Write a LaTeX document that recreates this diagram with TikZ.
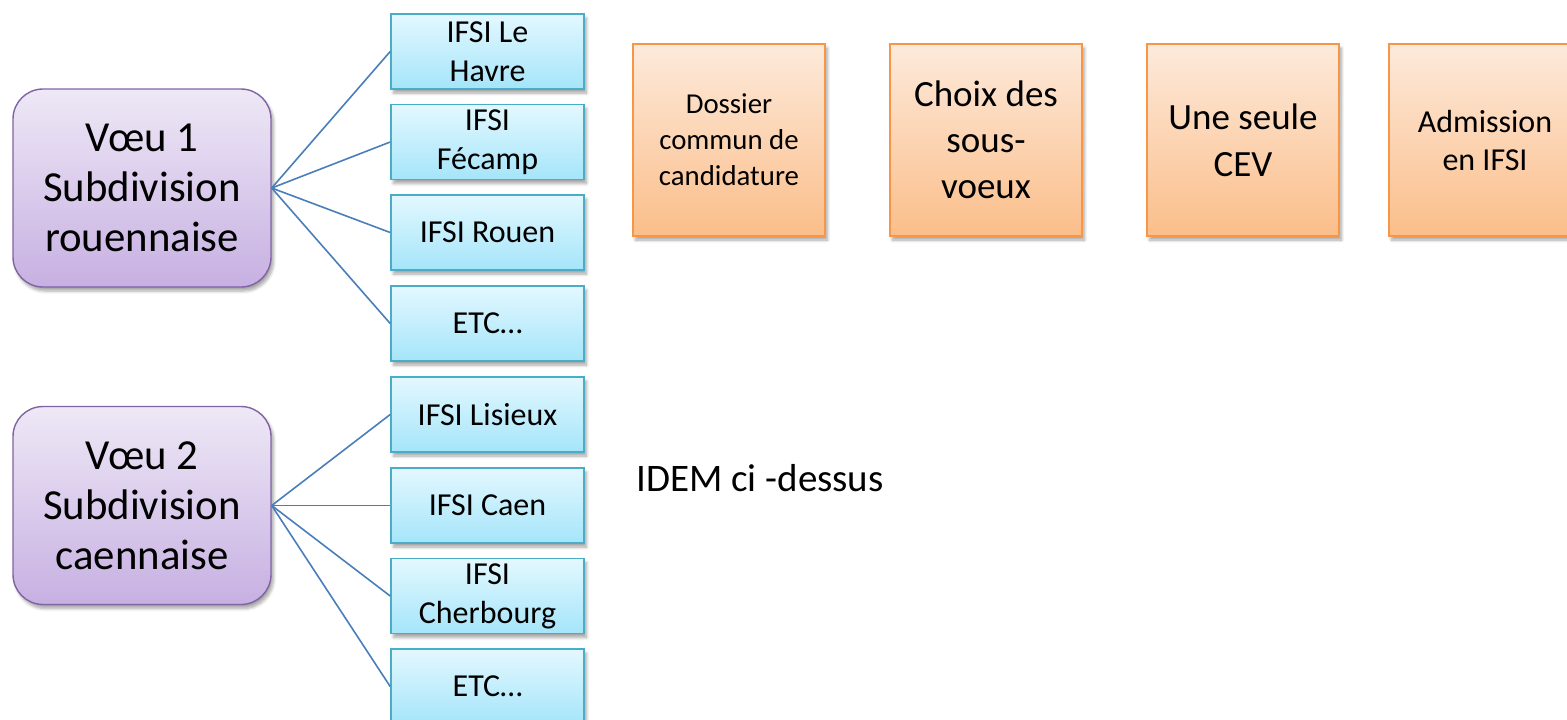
\documentclass[tikz,border=0pt]{standalone}
\usepackage{fontspec}
\setmainfont{Carlito}
\usetikzlibrary{shadows.blur}
\definecolor{purpTop}{HTML}{EEE8F6}
\definecolor{purpBot}{HTML}{C7B0E2}
\definecolor{purpLine}{HTML}{8064A2}
\definecolor{blueTop}{HTML}{E3F8FF}
\definecolor{blueBot}{HTML}{A5E5FA}
\definecolor{blueLine}{HTML}{4BACC6}
\definecolor{orTop}{HTML}{FDEADB}
\definecolor{orBot}{HTML}{FBBE8A}
\definecolor{orLine}{HTML}{F79646}
\definecolor{conn}{HTML}{4A7EBB}
\tikzset{
  shad/.style={blur shadow={shadow xshift=1.2pt, shadow yshift=-2pt, shadow opacity=35, shadow blur steps=6, shadow blur radius=1.5pt}},
  voeu/.style={shad, draw=purpLine, line width=0.7pt, rounded corners=15pt, top color=purpTop, bottom color=purpBot,
    minimum width=129pt, minimum height=99pt, align=center, inner sep=0pt,
    font=\fontsize{21.4}{25}\selectfont},
  ifsi/.style={shad, draw=blueLine, line width=0.8pt, top color=blueTop, bottom color=blueBot,
    minimum width=96.5pt, minimum height=37.5pt, align=center, inner sep=0pt,
    font=\fontsize{16}{19.5}\selectfont},
  etape/.style={shad, draw=orLine, line width=0.8pt, top color=orTop, bottom color=orBot,
    minimum width=96pt, minimum height=96pt, align=center, inner sep=0pt},
  lien/.style={draw=conn, line width=0.8pt}
}
\begin{document}
\begin{tikzpicture}[x=0.5pt, y=-0.5pt]
\useasboundingbox (0,0) rectangle (1567,719);
\node[voeu] (v1) at (142,188) {Vœu 1\\Subdivision\\rouennaise};
\node[voeu] (v2) at (142,505.5) {Vœu 2\\Subdivision\\caennaise};

\node[ifsi] (a1) at (487.5,51.5) {IFSI Le\\Havre};
\node[ifsi] (a2) at (487.5,142) {IFSI\\Fécamp};
\node[ifsi] (a3) at (487.5,232.5) {IFSI Rouen};
\node[ifsi] (a4) at (487.5,323.5) {ETC…};
\node[ifsi] (b1) at (487.5,414.5) {IFSI Lisieux};
\node[ifsi] (b2) at (487.5,505.5) {IFSI Caen};
\node[ifsi] (b3) at (487.5,596) {IFSI\\Cherbourg};
\node[ifsi] (b4) at (487.5,686.5) {ETC…};

\foreach \t in {a1,a2,a3,a4} \draw[lien] (v1.east) -- (\t.west);
\foreach \t in {b1,b2,b3,b4} \draw[lien] (v2.east) -- (\t.west);

\node[etape, font=\fontsize{14.4}{18}\selectfont] (e1) at (729,140) {Dossier\\commun de\\candidature};
\node[etape, font=\fontsize{18.5}{23}\selectfont] (e2) at (986,140) {Choix des\\sous-\\voeux};
\node[etape, font=\fontsize{18.5}{23.5}\selectfont] (e3) at (1243,140) {Une seule\\CEV};
\node[etape, font=\fontsize{16}{19}\selectfont] (e4) at (1485,140) {Admission\\en IFSI};

\node[font=\fontsize{19.5}{23}\selectfont, anchor=west, inner sep=0pt] (idem) at (636,478) {IDEM ci -dessus};
\end{tikzpicture}
\end{document}
